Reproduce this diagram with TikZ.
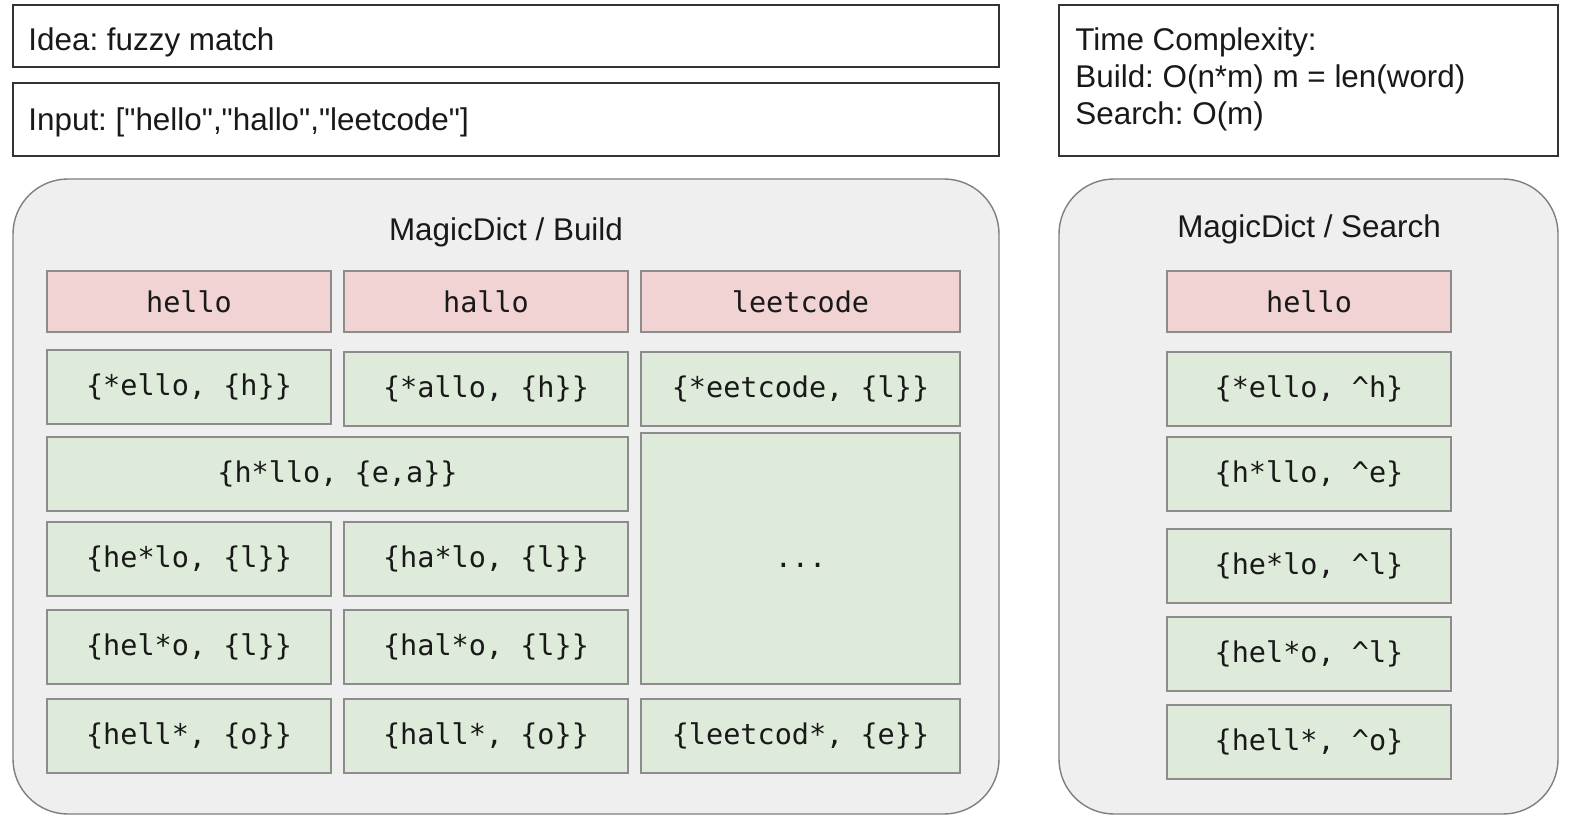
\documentclass[tikz,border=0pt]{standalone}
\usepackage{fontspec}
\setmainfont{Liberation Sans}
\newfontfamily\monofont{DejaVu Sans Mono}
\frenchspacing
\definecolor{pinkfill}{HTML}{F2D3D4}
\definecolor{greenfill}{HTML}{DFEBDA}
\definecolor{panelfill}{HTML}{EFEFEF}
\definecolor{boxline}{HTML}{8C8C8C}
\definecolor{panelline}{HTML}{7F7F7F}
\tikzset{
  cell/.style={draw=boxline, line width=1pt, inner sep=0pt,
    font=\monofont\fontsize{14.25}{17}\selectfont, text=black!90},
  pinkcell/.style={cell, fill=pinkfill},
  greencell/.style={cell, fill=greenfill},
  panel/.style={draw=panelline, fill=panelfill, line width=0.7pt, rounded corners=27.5pt, inner sep=0pt},
  topbox/.style={draw=black!80, line width=0.8pt, fill=white, inner sep=0pt},
  sanstext/.style={font=\frenchspacing\fontsize{15.7}{18.5}\selectfont, inner sep=0pt, text=black!90},
}
\newcommand{\cellat}[7]{%
  \node[#1, minimum width={(#5-#3)*0.5pt}, minimum height={(#6-#4)*0.5pt}]
    (#2) at ({(#3+#5)/2},{(#4+#6)/2}) {#7};}
\begin{document}
\begin{tikzpicture}[x=0.5pt,y=-0.5pt]
\useasboundingbox[fill=white] (0,0) rectangle (1588,834);
% top boxes
\cellat{topbox}{idea}{13}{5}{999}{67}{}
\cellat{topbox}{input}{13}{83}{999}{156}{}
\cellat{topbox}{tc}{1059}{5}{1558}{156}{}
\node[sanstext, anchor=base west] (ideatxt) at (28,51) {Idea: fuzzy match};
\node[sanstext, anchor=base west] (inputtxt) at (28,131) {Input: [\textquotedbl hello\textquotedbl,\textquotedbl hallo\textquotedbl,\textquotedbl leetcode\textquotedbl]};
\node[sanstext, anchor=base west] (tc1) at (1075,51) {Time Complexity:};
\node[sanstext, anchor=base west] (tc2) at (1075,88) {Build: O(n*m) m = len(word)};
\node[sanstext, anchor=base west] (tc3) at (1075,125) {Search: O(m)};
% panels
\cellat{panel}{build}{13}{179}{999}{814}{}
\cellat{panel}{search}{1059}{179}{1558}{814}{}
\node[sanstext, anchor=base] (buildtitle) at (506,241) {MagicDict / Build};
\node[sanstext, anchor=base] (searchtitle) at (1309,237) {MagicDict / Search};
% build grid
\cellat{pinkcell}{w1}{47}{271}{331}{332}{hello}
\cellat{pinkcell}{w2}{344}{271}{628}{332}{hallo}
\cellat{pinkcell}{w3}{641}{271}{960}{332}{leetcode}
\cellat{greencell}{a1}{47}{350}{331}{424}{\{*ello, \{h\}\}}
\cellat{greencell}{a2}{344}{352}{628}{426}{\{*allo, \{h\}\}}
\cellat{greencell}{a3}{641}{352}{960}{426}{\{*eetcode, \{l\}\}}
\cellat{greencell}{b12}{47}{437}{628}{511}{\{h*llo, \{e,a\}\}}
\cellat{greencell}{dots}{641}{433}{960}{684}{\vphantom{\{\}}...}
\cellat{greencell}{c1}{47}{522}{331}{596}{\{he*lo, \{l\}\}}
\cellat{greencell}{c2}{344}{522}{628}{596}{\{ha*lo, \{l\}\}}
\cellat{greencell}{d1}{47}{610}{331}{684}{\{hel*o, \{l\}\}}
\cellat{greencell}{d2}{344}{610}{628}{684}{\{hal*o, \{l\}\}}
\cellat{greencell}{e1}{47}{699}{331}{773}{\{hell*, \{o\}\}}
\cellat{greencell}{e2}{344}{699}{628}{773}{\{hall*, \{o\}\}}
\cellat{greencell}{e3}{641}{699}{960}{773}{\{leetcod*, \{e\}\}}
% search column
\cellat{pinkcell}{s0}{1167}{271}{1451}{332}{hello}
\cellat{greencell}{s1}{1167}{352}{1451}{426}{\{*ello, \textasciicircum h\}}
\cellat{greencell}{s2}{1167}{437}{1451}{511}{\{h*llo, \textasciicircum e\}}
\cellat{greencell}{s3}{1167}{529}{1451}{603}{\{he*lo, \textasciicircum l\}}
\cellat{greencell}{s4}{1167}{617}{1451}{691}{\{hel*o, \textasciicircum l\}}
\cellat{greencell}{s5}{1167}{705}{1451}{779}{\{hell*, \textasciicircum o\}}
\end{tikzpicture}
\end{document}
